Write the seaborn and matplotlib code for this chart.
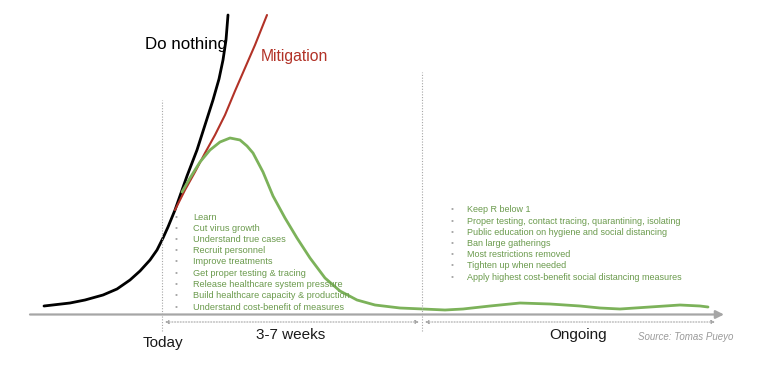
import numpy as np
import pandas as pd
import matplotlib.pyplot as plt
import seaborn as sns

sns.set_theme(style="white")
plt.rcParams["font.family"] = ["Liberation Sans", "DejaVu Sans"]

# curves (x = time, y = cases, axis units)
nothing_t = [44, 70, 85, 103, 117, 130, 140, 150, 157, 163, 168, 175, 181, 187, 197, 205,
             213, 219, 223, 226, 228]
nothing_y = [5, 8, 11, 16, 22, 31, 40, 51, 61, 73, 84, 101, 118, 135, 161, 186,
             211, 232, 251, 271, 296]

mitig_t = [175, 185, 195, 205, 215, 225, 235, 245, 255, 267]
mitig_y = [101, 121, 139, 158, 176, 196, 220, 243, 266, 296]

flat_t = [182, 190, 200, 210, 220, 230, 240, 247, 253, 263, 273, 285, 297, 310, 325, 340,
          357, 375, 400, 423, 445, 463, 490, 520, 550, 580, 600, 620, 650, 680, 700, 708]
flat_y = [119, 133, 149, 161, 169, 173, 171, 165, 158, 139, 115, 93, 73, 53, 33, 20,
          11, 6, 3, 2, 1, 2, 5, 8, 7, 5, 3, 2, 4, 6, 5, 4]

phase_edges = [162, 422, 720]
phase_names = ["3-7 weeks", "Ongoing"]

left_items = [
    "Learn",
    "Cut virus growth",
    "Understand true cases",
    "Recruit personnel",
    "Improve treatments",
    "Get proper testing & tracing",
    "Release healthcare system pressure",
    "Build healthcare capacity & production",
    "Understand cost-benefit of measures",
]
right_items = [
    "Keep R below 1",
    "Proper testing, contact tracing, quarantining, isolating",
    "Public education on hygiene and social distancing",
    "Ban large gatherings",
    "Most restrictions removed",
    "Tighten up when needed",
    "Apply highest cost-benefit social distancing measures",
]

GREEN = "#7cb25a"
TEXT_GREEN = "#6a9a4c"
RED = "#b23227"
GRAY = "#a6a6a6"

fig = plt.figure(figsize=(7.7, 3.71), dpi=100)
ax = fig.add_axes([0, 0, 1, 1])
ax.set_xlim(0, 770)
ax.set_ylim(-60, 311)
ax.axis("off")

line_kw = dict(sort=False, solid_joinstyle="round", solid_capstyle="round")
sns.lineplot(x=nothing_t, y=nothing_y, ax=ax, color="black", lw=2.0, **line_kw)
sns.lineplot(x=mitig_t, y=mitig_y, ax=ax, color=RED, lw=1.5, **line_kw)
sns.lineplot(x=flat_t, y=flat_y, ax=ax, color=GREEN, lw=2.0, **line_kw)

# time axis
ax.annotate("", xy=(724, -3.5), xytext=(30, -3.5),
            arrowprops=dict(arrowstyle="-|>", color=GRAY, lw=1.6, mutation_scale=12,
                            shrinkA=0, shrinkB=0))

# phase separators
ax.plot([phase_edges[0]] * 2, [-20, 211], color=GRAY, lw=0.8, ls=(0, (1, 1.5)))
ax.plot([phase_edges[1]] * 2, [-20, 239], color=GRAY, lw=0.8, ls=(0, (1, 1.5)))

# phase span arrows
for a, b in [(phase_edges[0] + 3, phase_edges[1] - 3), (phase_edges[1] + 3, phase_edges[2] - 5)]:
    ax.annotate("", xy=(b, -11), xytext=(a, -11),
                arrowprops=dict(arrowstyle="<|-|>", color=GRAY, lw=0.8, ls=(0, (1, 1.5)),
                                mutation_scale=5, shrinkA=0, shrinkB=0))

ax.text(163, -32, "Today", ha="center", va="center", fontsize=11, color="#1a1a1a")
ax.text(291, -24, phase_names[0], ha="center", va="center", fontsize=11, color="#1a1a1a")
ax.text(578, -24, phase_names[1], ha="center", va="center", fontsize=11, color="#1a1a1a")
ax.text(686, -26, "Source: Tomas Pueyo", ha="center", va="center", fontsize=7,
        color="#9a9a9a", style="italic")

ax.text(186, 266, "Do nothing", ha="center", va="center", fontsize=12.2, color="black")
ax.text(294.5, 254, "Mitigation", ha="center", va="center", fontsize=11.3, color=RED)

for i, item in enumerate(left_items):
    y = 94 - i * 11.25
    ax.text(176, y, "•", ha="center", va="center", fontsize=6, color=GRAY)
    ax.text(193, y, item, ha="left", va="center", fontsize=6.6, color=TEXT_GREEN)

for i, item in enumerate(right_items):
    y = 101 - i * 11.17
    ax.text(452, y, "•", ha="center", va="center", fontsize=6, color=GRAY)
    ax.text(467, y, item, ha="left", va="center", fontsize=6.5, color=TEXT_GREEN)

fig.savefig("out.png", dpi=100)
